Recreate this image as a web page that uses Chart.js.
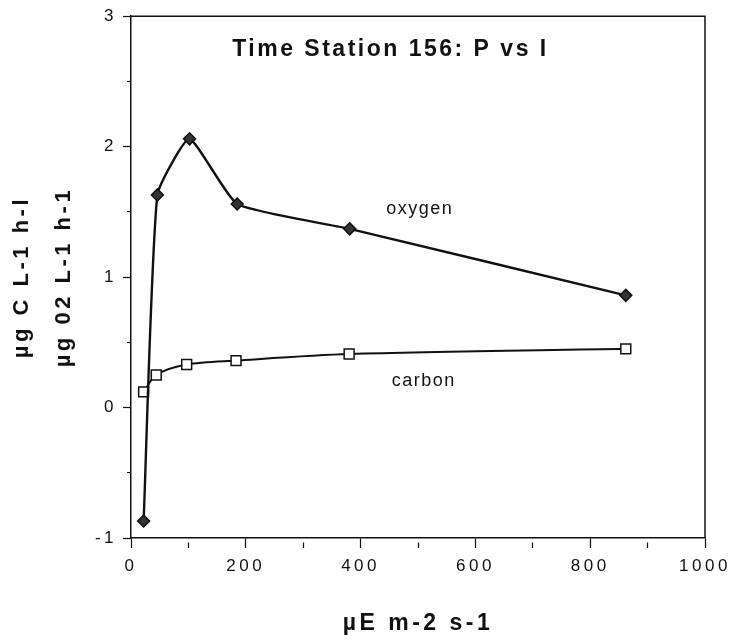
<!DOCTYPE html>
<html>
<head>
<meta charset="utf-8">
<script src="https://cdn.jsdelivr.net/npm/chart.js@4/dist/chart.umd.min.js"></script>
<style>
html,body{margin:0;padding:0;background:#fff}
canvas{display:block}
</style>
</head>
<body>
<canvas id="pvi" width="733" height="643"></canvas>
<script>

// light (µE m-2 s-1) and production readings
const oxygenX=[22,46,102,185,381,862]
const oxygenY=[-0.87,1.63,2.06,1.56,1.37,0.86]

const carbonX=[22,44,97,183,380,862]
const carbonY=[0.12,0.25,0.33,0.36,0.41,0.45]

const xTicks=[0,200,400,600,800,1000]
const yTicks=[-1,0,1,2,3]

const FONT='"Liberation Sans", Arial, Helvetica, sans-serif'

function pts(xs,ys){
return xs.map((x,i)=>({x:x,y:ys[i]}))
}

// short minor ticks: leave the outer part of the tick blank
function minorDash(major,gap,len){
return ctx=>major.includes(ctx.tick.value)?[]:[0,gap,len,40]
}

const frame={
id:'frame',
beforeDraw(chart){
chart.ctx.letterSpacing='3.5px'
},
beforeDatasetsDraw(chart){
const {ctx,chartArea:a}=chart
ctx.save()
ctx.strokeStyle='#111'
ctx.lineWidth=1.5
ctx.beginPath()
ctx.moveTo(a.left,a.top)
ctx.lineTo(a.right,a.top)
ctx.lineTo(a.right,a.bottom)
ctx.stroke()
ctx.restore()
},
afterDraw(chart){
const {ctx,scales}=chart
const px=v=>scales.x.getPixelForValue(v)
const py=v=>scales.y.getPixelForValue(v)
ctx.save()
ctx.fillStyle='#111'
ctx.textAlign='center'
ctx.textBaseline='middle'
ctx.letterSpacing='2.5px'
ctx.font='bold 23px '+FONT
ctx.fillText('Time Station 156: P vs I',px(452),py(2.74))
ctx.letterSpacing='1.5px'
ctx.font='18px '+FONT
ctx.fillText('oxygen',px(503),py(1.52))
ctx.fillText('carbon',px(510),py(0.2))
ctx.restore()
ctx.letterSpacing='0px'
}
}

new Chart(
document.getElementById('pvi'),
{
type:'line',
data:{
datasets:[{
label:'oxygen',
data:pts(oxygenX,oxygenY),
borderColor:'#111',
borderWidth:2.4,
tension:0.15,
pointStyle:'rectRot',
pointRadius:6,
pointBackgroundColor:'#333',
pointBorderColor:'#111',
pointBorderWidth:1.5
},{
label:'carbon',
data:pts(carbonX,carbonY),
borderColor:'#111',
borderWidth:2,
tension:0.3,
pointStyle:'rect',
pointRadius:7,
pointBackgroundColor:'#fff',
pointBorderColor:'#111',
pointBorderWidth:1.5
}]
},
options:{
responsive:false,
animation:false,
events:[],
layout:{padding:{top:16,right:28,left:0,bottom:0}},
plugins:{legend:{display:false},tooltip:{enabled:false}},
scales:{
x:{
type:'linear',
min:0,max:1000,
afterFit:s=>{s.height=105},
border:{color:'#111',width:1.5},
grid:{drawOnChartArea:false,tickLength:10,tickColor:'#111',tickWidth:1.2,tickBorderDash:minorDash(xTicks,4,6)},
ticks:{
stepSize:100,autoSkip:false,maxRotation:0,padding:8,
color:'#111',font:{family:FONT,size:17},
callback:v=>xTicks.includes(v)?String(v):''
},
title:{display:true,text:'µE m-2 s-1',color:'#111',font:{family:FONT,size:23,weight:'bold'},padding:{top:0,bottom:6}}
},
y:{
min:-1,max:3,
afterFit:s=>{s.width=131},
border:{color:'#111',width:1.5},
grid:{drawOnChartArea:false,tickLength:8,tickColor:'#111',tickWidth:1.2,tickBorderDash:minorDash(yTicks,4,4)},
ticks:{
stepSize:0.5,autoSkip:false,padding:6,
color:'#111',font:{family:FONT,size:17},
callback:v=>yTicks.includes(v)?String(v):''
},
title:{display:true,text:['µg C L-1 h-l','µg 02 L-1 h-1'],color:'#111',font:{family:FONT,size:22,weight:'bold',lineHeight:1.95},padding:{top:0,bottom:0}}
}
}
},
plugins:[frame]
})

</script>
</body>
</html>
